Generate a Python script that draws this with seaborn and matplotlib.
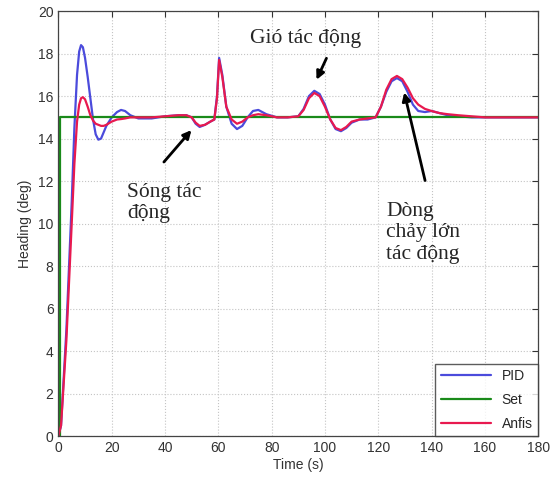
import pandas as pd
import numpy as np
import matplotlib
matplotlib.use('Agg')
import matplotlib.pyplot as plt
import seaborn as sns

# thời gian (s)
t = [0, 1, 3, 5, 6, 7, 7.8, 8.5, 9.2, 10, 11, 12, 13, 14, 15, 16, 17, 18, 20, 22, 23.5, 25, 27, 30, 35, 40,
     45, 48, 50, 51.5, 53, 55, 57, 58.5, 59.5, 60.3, 61.5, 63, 65, 67, 69, 71, 73, 75, 78, 82,
     86, 90, 92, 94, 96, 98, 100, 102, 104, 106, 108, 110, 113, 116, 119, 121, 123, 125, 127, 129,
     131, 133, 135, 137.5, 140, 143, 146, 150, 155, 160, 170, 180]

pid = [0, 0.5, 5, 11, 14.5, 17.0, 18.1, 18.4, 18.3, 17.8, 16.9, 15.9, 14.9, 14.2, 13.95, 14.0, 14.3, 14.6, 15.0, 15.25, 15.35, 15.3, 15.1, 14.95, 14.95, 15.05,
       15.1, 15.1, 15.0, 14.7, 14.55, 14.65, 14.8, 14.9, 16.0, 17.8, 17.0, 15.5, 14.7, 14.45, 14.6, 15.0, 15.3, 15.35, 15.15, 15.0,
       15.0, 15.05, 15.4, 16.0, 16.25, 16.1, 15.6, 14.9, 14.45, 14.35, 14.5, 14.75, 14.9, 14.9, 15.0, 15.5, 16.2, 16.7, 16.85, 16.7,
       16.2, 15.6, 15.3, 15.25, 15.3, 15.2, 15.1, 15.05, 15.0, 15.0, 15.0, 15.0]

anfis = [0, 0.5, 4.5, 10, 12.8, 14.8, 15.6, 15.9, 15.95, 15.85, 15.5, 15.1, 14.85, 14.7, 14.65, 14.6, 14.6, 14.65, 14.8, 14.9, 14.92, 14.95, 15.0, 15.0, 15.0, 15.05,
         15.1, 15.1, 15.0, 14.75, 14.6, 14.65, 14.8, 14.9, 15.9, 17.7, 16.9, 15.5, 14.9, 14.7, 14.8, 15.0, 15.1, 15.15, 15.1, 15.0,
         15.0, 15.05, 15.35, 15.9, 16.15, 16.0, 15.5, 14.9, 14.5, 14.4, 14.55, 14.8, 14.9, 14.95, 15.0, 15.5, 16.3, 16.8, 16.95, 16.8,
         16.4, 15.9, 15.6, 15.4, 15.3, 15.2, 15.15, 15.1, 15.05, 15.0, 15.0, 15.0]

t_set = [0, 0.5, 0.5, 180]
set_val = [0, 0, 15, 15]

df = pd.concat([
    pd.DataFrame({'Time': t, 'Heading': pid, 'series': 'PID'}),
    pd.DataFrame({'Time': t_set, 'Heading': set_val, 'series': 'Set'}),
    pd.DataFrame({'Time': t, 'Heading': anfis, 'series': 'Anfis'}),
], ignore_index=True)

palette = {'PID': '#4b4bdc', 'Set': '#1a8a1a', 'Anfis': '#e8194f'}

sns.set_style('white')
plt.rcParams['font.family'] = ['Liberation Sans', 'DejaVu Sans']

fig = plt.figure(figsize=(5.56, 4.84), dpi=100)
ax = fig.add_axes([0.105, 0.099, 0.863, 0.878])

sns.lineplot(data=df, x='Time', y='Heading', hue='series', palette=palette,
             estimator=None, sort=False, linewidth=1.6, ax=ax)

ax.set_xlim(0, 180)
ax.set_ylim(0, 20)
ax.set_xticks(np.arange(0, 181, 20))
ax.set_yticks(np.arange(0, 21, 2))
ax.grid(True, linestyle=':', color='#c4c4c4', linewidth=0.8)
ax.tick_params(direction='in', top=True, right=True, labelsize=10, colors='#333333', length=4)
for s in ax.spines.values():
    s.set_color('#444444')
    s.set_linewidth(0.9)
ax.set_xlabel('Time (s)', fontsize=10, color='#333333', labelpad=2)
ax.set_ylabel('Heading (deg)', fontsize=10, color='#333333', labelpad=4)

leg = ax.legend(loc='lower right', borderaxespad=0, fontsize=10, handlelength=3.6,
                frameon=True, fancybox=False, edgecolor='#333333', labelspacing=0.7)
leg.get_frame().set_linewidth(1.0)

# chú thích
serif = ['Liberation Serif', 'DejaVu Serif']
ax.text(25.7, 11.9, 'Sóng tác\nđộng', family=serif, fontsize=15.5, va='top', linespacing=1.15)
ax.annotate('', xy=(50.6, 14.5), xytext=(38.9, 12.8),
            arrowprops=dict(arrowstyle='-|>', color='black', lw=2, mutation_scale=12))
ax.text(113.6, 18.5, 'Gió tác động', family=serif, fontsize=15.5, ha='right', va='baseline')
ax.annotate('', xy=(96.4, 16.65), xytext=(101, 17.9),
            arrowprops=dict(arrowstyle='-|>', color='black', lw=2, mutation_scale=12))
ax.text(123, 11.0, 'Dòng\nchảy lớn\ntác động', family=serif, fontsize=15.5, va='top', linespacing=1.15)
ax.annotate('', xy=(129.5, 16.3), xytext=(137.8, 11.9),
            arrowprops=dict(arrowstyle='-|>', color='black', lw=2, mutation_scale=12))

fig.savefig('out.png', dpi=100)
